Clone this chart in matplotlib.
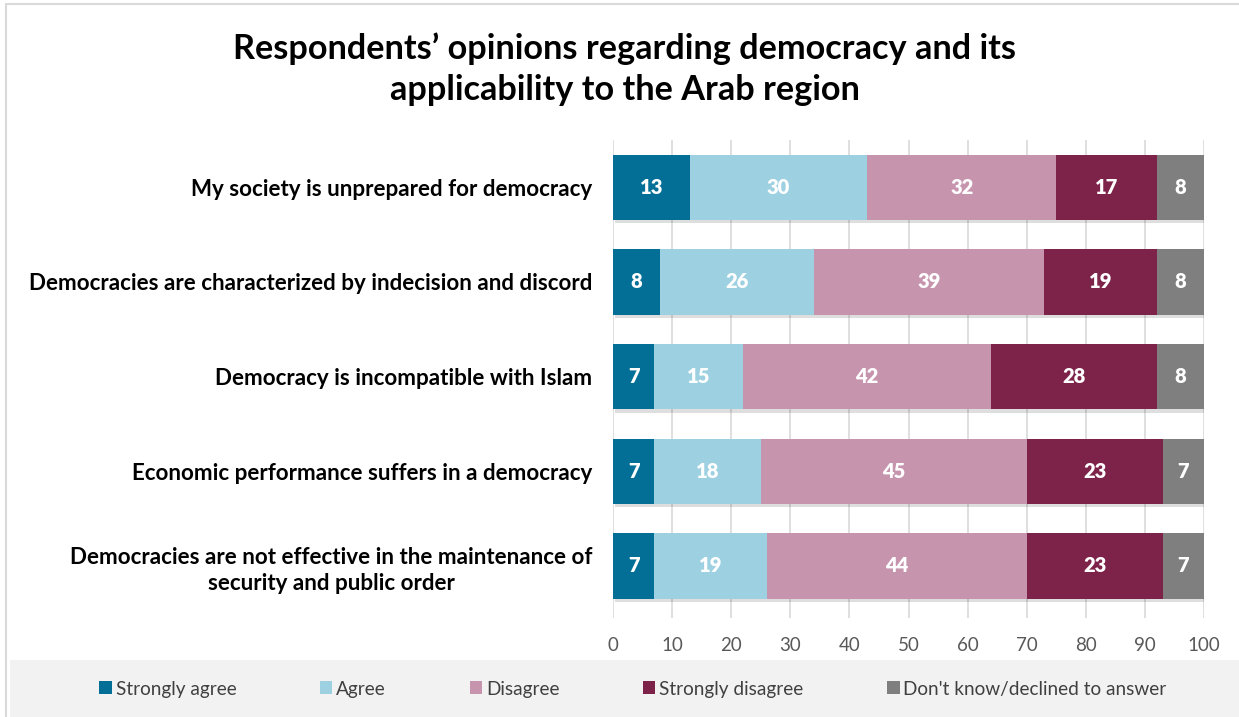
import matplotlib
matplotlib.use("Agg")
import matplotlib.pyplot as plt
import matplotlib.patheffects as pe
import numpy as np
from matplotlib.patches import Rectangle, Patch

plt.rcParams['font.family'] = ['Lato', 'DejaVu Sans']

statements = [
    'My society is unprepared for democracy',
    'Democracies are characterized by indecision and discord',
    'Democracy is incompatible with Islam',
    'Economic performance suffers in a democracy',
    'Democracies are not effective in the maintenance of\nsecurity and public order',
]
answers = ['Strongly agree', 'Agree', 'Disagree', 'Strongly disagree',
           "Don't know/declined to answer"]
strongly_agree = [13, 8, 7, 7, 7]
agree = [30, 26, 15, 18, 19]
disagree = [32, 39, 42, 45, 44]
strongly_disagree = [17, 19, 28, 23, 23]
dont_know = [8, 8, 8, 7, 7]

COLORS = ['#046f96', '#9dd0e0', '#c794ae', '#7d2249', '#7f7f7f']
GRID_COLOR = '#d9d9d9'
TICK_COLOR = '#595959'

series = [strongly_agree, agree, disagree, strongly_disagree, dont_know]

fig = plt.figure(figsize=(12.39, 7.17), dpi=100)
ax = fig.add_axes([613 / 1239, 99 / 717, 591 / 1239, 478 / 717])

y = np.arange(len(statements))
left = np.zeros(len(statements))
shadow = [pe.SimplePatchShadow(offset=(1.5, -2.5), shadow_rgbFace='#000000', alpha=0.13), pe.Normal()]
for values, color in zip(series, COLORS):
    vals = np.array(values, dtype=float)
    bars = ax.barh(y, vals, left=left, height=0.69, color=color, zorder=3)
    for bar in bars:
        bar.set_path_effects(shadow)
    for yi, l, v in zip(y, left, vals):
        ax.text(l + v / 2, yi, '{:d}'.format(int(v)), ha='center', va='center',
                color='white', fontsize=14.5, fontweight='heavy', zorder=4)
    left += vals

ax.set_xlim(0, 100)
ax.set_ylim(4.55, -0.5)
ax.set_xticks(np.arange(0, 101, 10))
ax.set_yticks(y)
ax.set_yticklabels(statements, fontsize=16.1, fontweight='bold', color='black',
                   multialignment='center', linespacing=1.3)
ax.tick_params(axis='y', length=0, pad=15)
ax.tick_params(axis='x', length=0, pad=14, labelsize=13.5, labelcolor=TICK_COLOR)
for spine in ax.spines.values():
    spine.set_visible(False)
ax.xaxis.grid(True, color=GRID_COLOR, linewidth=1.2, zorder=0)
ax.set_axisbelow(True)

fig.text(0.504, 1 - 69 / 717, 'Respondents\u2019 opinions regarding democracy and its\napplicability to the Arab region',
         ha='center', va='center', fontsize=24.7, fontweight='bold', linespacing=1.36)

# outer frame and legend band
fig.patches.append(Rectangle((6 / 1239, -0.01), 1.1, 0.01 + 713 / 717, transform=fig.transFigure,
                             fill=False, edgecolor='#d9d9d9', linewidth=1.5, zorder=0))
fig.patches.append(Rectangle((10 / 1239, 0), 1.0, 57 / 717, transform=fig.transFigure,
                             facecolor='#f2f2f2', edgecolor='none', zorder=0))

handles = [Patch(facecolor=c, edgecolor='none') for c in COLORS]
fig.legend(handles, answers, loc='center', bbox_to_anchor=(633 / 1239, 28 / 717), ncol=5,
           frameon=False, fontsize=13.7, handlelength=0.65, handleheight=0.65,
           handletextpad=0.2, columnspacing=4.4, labelcolor='#404040')

fig.savefig('out.png', dpi=100)
